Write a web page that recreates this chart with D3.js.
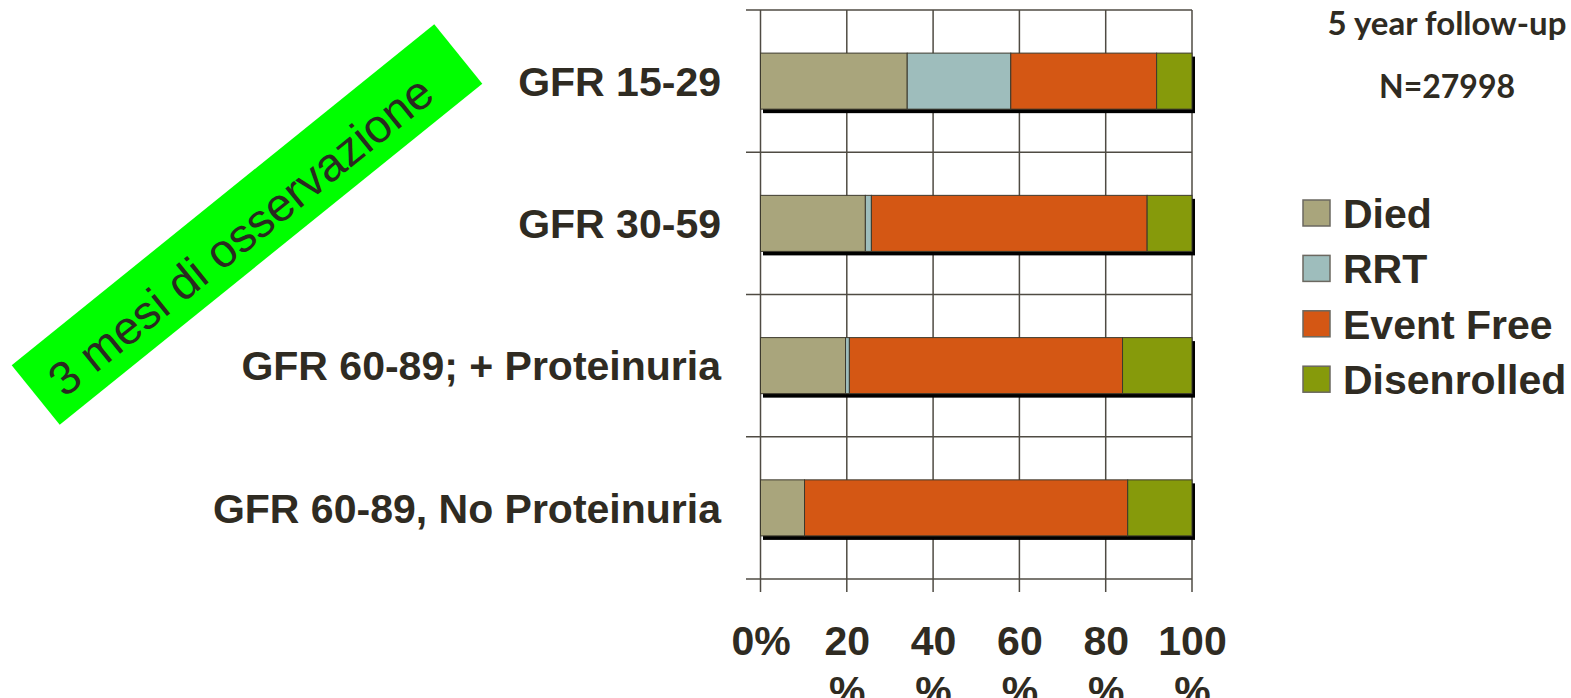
<!DOCTYPE html>
<html>
<head>
<meta charset="utf-8">
<script src="https://cdn.jsdelivr.net/npm/d3@7"></script>
<style>
  html, body { margin: 0; padding: 0; background: #fff; overflow: hidden; }
  svg { display: block; }
</style>
</head>
<body>
<svg id="chart" width="1571" height="698"></svg>
<script>
// Outcome groups at 5 years, by baseline GFR class (percent of patients)
const categories = ["GFR 15-29", "GFR 30-59", "GFR 60-89; + Proteinuria", "GFR 60-89, No Proteinuria"];
const seriesNames = ["Died", "RRT", "Event Free", "Disenrolled"];
const died        = [34.0, 24.3, 19.7, 10.2];
const rrt         = [24.0,  1.4,  0.9,  0.0];
const eventFree   = [33.8, 63.9, 63.3, 74.9];
const disenrolled = [ 8.2, 10.4, 16.1, 14.9];
const seriesColors = ["#a9a57c", "#9ebdbc", "#d45714", "#869a0b"];
const tickValues = [0, 20, 40, 60, 80, 100];
const tickLabels = ["0%", "20 %", "40 %", "60 %", "80 %", "100 %"];

const rows = categories.map((c, i) => ({
  category: c,
  "Died": died[i], "RRT": rrt[i], "Event Free": eventFree[i], "Disenrolled": disenrolled[i]
}));

const svg = d3.select("#chart");
const textColor = "#2f2b22";
const gridColor = "#4f4b43";
const labelFont = "'Liberation Sans', Arial, sans-serif";

const x = d3.scaleLinear().domain([0, 100]).range([760.5, 1192]);
const y = d3.scaleBand().domain(categories).range([10, 579]).padding(0);
const color = d3.scaleOrdinal().domain(seriesNames).range(seriesColors);
const barFrac = 0.394;
const barH = y.bandwidth() * barFrac;
const barY = c => y(c) + (y.bandwidth() - barH) / 2;

// grid: horizontal lines at category boundaries, with left ticks
const hLines = categories.map(c => y(c)).concat([y.range()[1]]);
svg.append("g").selectAll("line").data(hLines).join("line")
  .attr("x1", 746).attr("x2", x(100))
  .attr("y1", d => d).attr("y2", d => d)
  .attr("stroke", gridColor).attr("stroke-width", 1.5);

// vertical grid lines extending down as ticks
svg.append("g").selectAll("line").data(tickValues).join("line")
  .attr("x1", d => x(d)).attr("x2", d => x(d))
  .attr("y1", y.range()[0]).attr("y2", y.range()[1] + 13)
  .attr("stroke", gridColor).attr("stroke-width", 1.5);

// bar shadows
const stacked = d3.stack().keys(seriesNames)(rows);
svg.append("g").selectAll("rect").data(rows).join("rect")
  .attr("x", x(0) + 2.5)
  .attr("y", d => barY(d.category) + 3.5)
  .attr("width", d => x(d3.sum(seriesNames, k => d[k])) - x(0) + 0.5)
  .attr("height", barH + 0.5)
  .attr("fill", "#000");

// stacked bars
svg.append("g").selectAll("g").data(stacked).join("g")
  .attr("fill", d => color(d.key))
  .selectAll("rect").data(d => d.filter(s => s[1] - s[0] > 0)).join("rect")
  .attr("x", d => x(d[0]))
  .attr("y", d => barY(d.data.category))
  .attr("width", d => x(d[1]) - x(d[0]))
  .attr("height", barH)
  .attr("stroke", "#3d3a2e").attr("stroke-width", 1);

// category labels
svg.append("g").selectAll("text").data(categories).join("text")
  .attr("x", 721)
  .attr("y", c => y(c) + y.bandwidth() / 2)
  .attr("dy", "0.36em")
  .attr("text-anchor", "end")
  .attr("font-family", labelFont).attr("font-weight", "bold")
  .attr("font-size", 41).attr("fill", textColor)
  .text(c => c);

// x axis labels (wrapped on two lines)
const xAxis = d3.axisBottom(x).tickValues(tickValues).tickSize(0)
  .tickFormat((d, i) => tickLabels[i]);
const axG = svg.append("g").attr("transform", "translate(0,655)").call(xAxis);
axG.select(".domain").remove();
axG.selectAll(".tick text").each(function(d, i) {
  const parts = tickLabels[i].split(" ");
  const t = d3.select(this).text(null)
    .attr("y", 0).attr("dy", null)
    .attr("font-family", labelFont).attr("font-weight", "bold")
    .attr("font-size", 41).attr("fill", textColor);
  parts.forEach((p, j) => {
    t.append("tspan").attr("x", 0).attr("dy", j === 0 ? 0 : 50).text(p);
  });
});

// legend
const lg = svg.append("g").attr("transform", "translate(1303,200)");
const li = lg.selectAll("g").data(seriesNames).join("g")
  .attr("transform", (d, i) => `translate(0,${i * 55.4})`);
li.append("rect").attr("width", 27).attr("height", 26)
  .attr("fill", d => color(d)).attr("stroke", "#6b6860").attr("stroke-width", 1.5);
li.append("text").attr("x", 40).attr("y", 13).attr("dy", "0.36em")
  .attr("font-family", labelFont).attr("font-weight", "bold")
  .attr("font-size", 41).attr("fill", textColor)
  .text(d => d);

// header notes
svg.append("text").attr("x", 1447).attr("y", 35).attr("text-anchor", "middle")
  .attr("font-family", "Lato, 'Open Sans', sans-serif").attr("font-weight", "bold")
  .attr("font-size", 33).attr("fill", textColor).text("5 year follow-up");
svg.append("text").attr("x", 1447).attr("y", 98).attr("text-anchor", "middle")
  .attr("font-family", "Lato, 'Open Sans', sans-serif").attr("font-weight", "bold")
  .attr("font-size", 32).attr("fill", textColor).text("N=27998");

// rotated green banner
const banner = svg.append("g").attr("transform", "translate(247,224.5) rotate(-38.9)");
banner.append("rect").attr("x", -271.5).attr("y", -38.25)
  .attr("width", 543).attr("height", 76.5).attr("fill", "#00ff00");
banner.append("text").attr("x", -12).attr("y", 4).attr("dy", "0.36em")
  .attr("text-anchor", "middle")
  .attr("font-family", labelFont).attr("font-size", 47).attr("fill", "#2a2a20")
  .text("3 mesi di osservazione");
</script>
</body>
</html>
